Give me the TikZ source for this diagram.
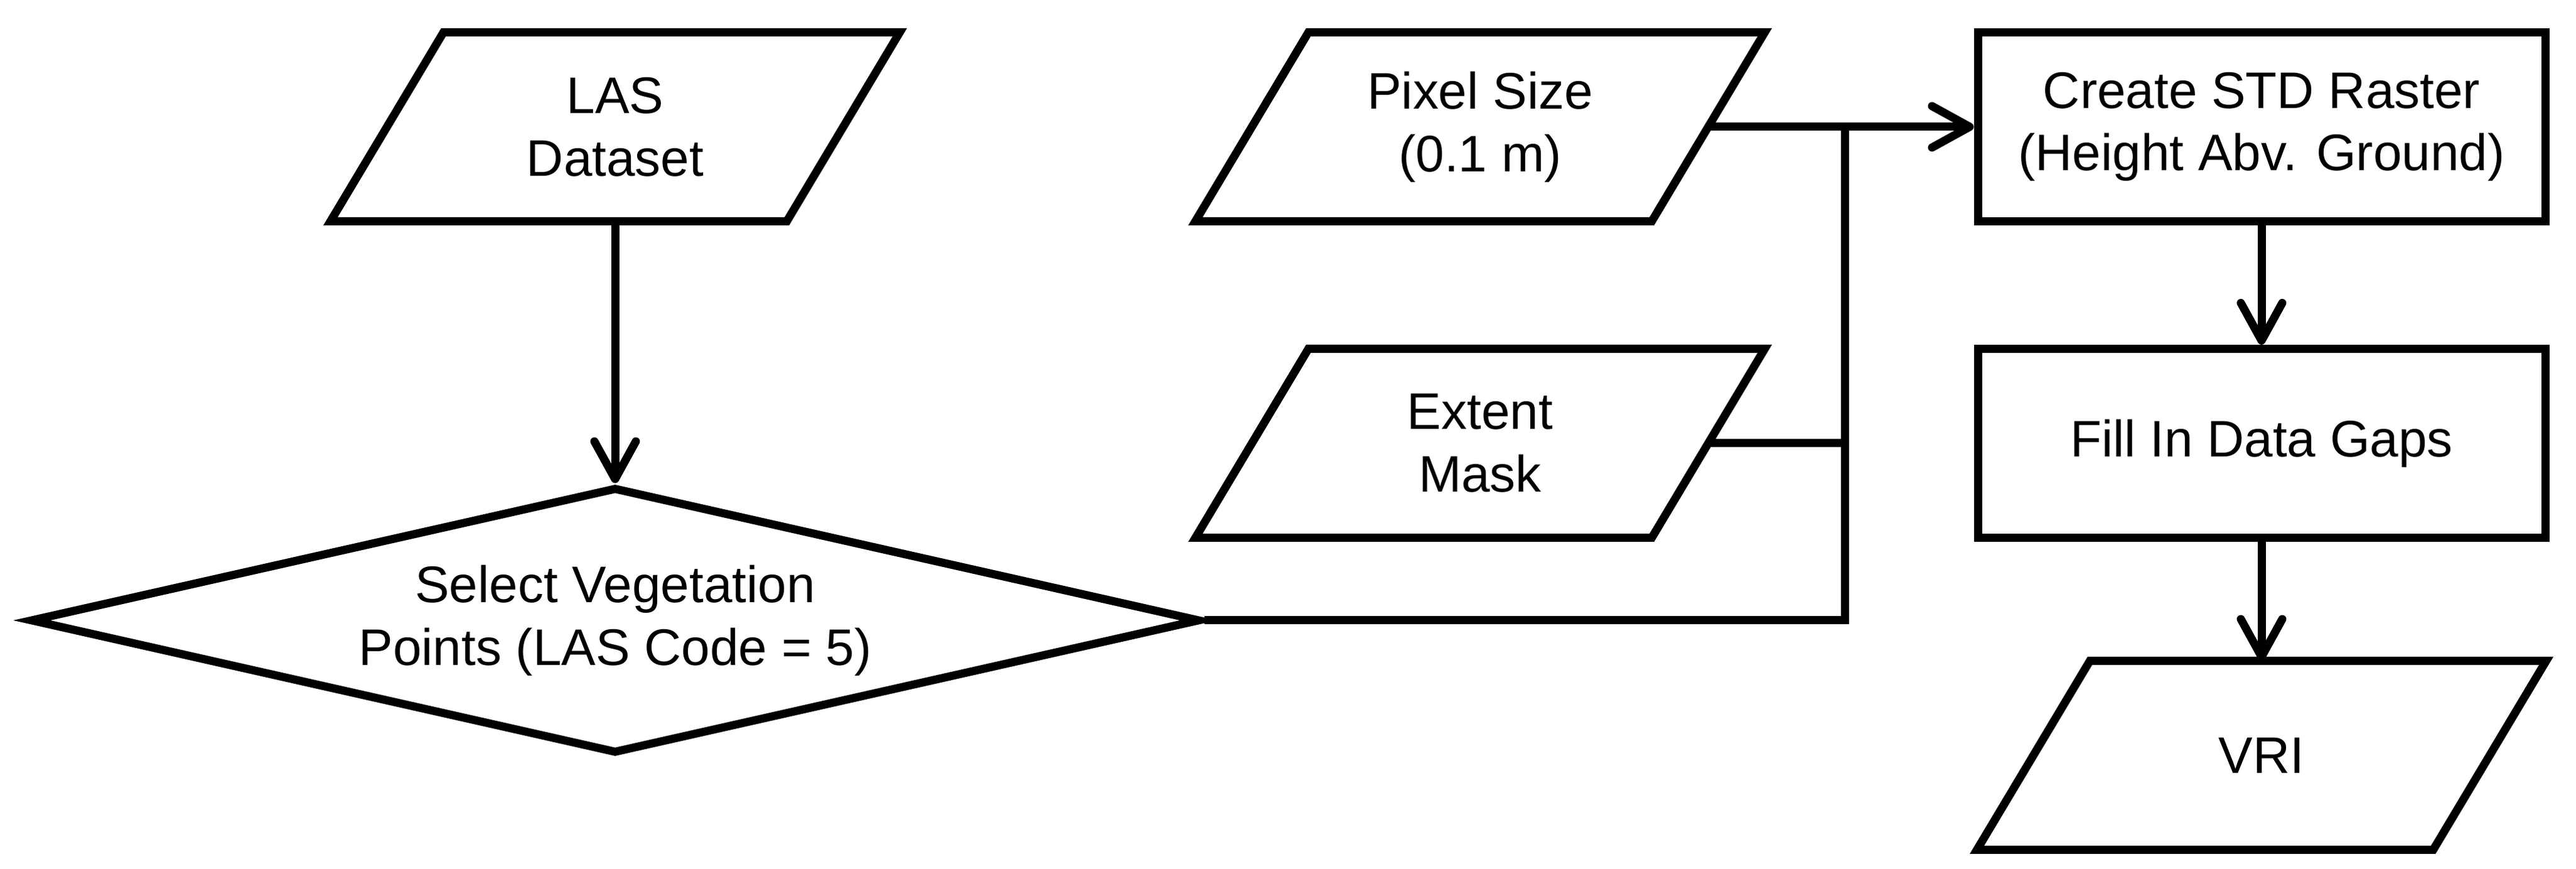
\documentclass[tikz,border=0pt]{standalone}
\usepackage{fontspec}
\setmainfont{Liberation Sans}
\usetikzlibrary{shapes.geometric,arrows.meta}

\begin{document}
\begin{tikzpicture}[
  every node/.style={font=\fontsize{23.3}{28.4}\selectfont, align=center, inner sep=0pt},
  io/.style={rectangle, outer sep=0pt, minimum width=7.27cm, minimum height=3.01cm},
  proc/.style={draw, line width=0.13cm, rectangle, minimum width=9.04cm, minimum height=3.01cm},
  dec/.style={draw, line width=0.13cm, diamond, aspect=4.4, minimum width=18.64cm, minimum height=4.24cm},
  arr/.style={line width=0.13cm, -{Straight Barb[length=0.6cm, width=0.66cm, round]}}
]
\useasboundingbox (0,0) rectangle (41.04,13.84);

\node[io] at (9.80,11.82) (las){LAS\\Dataset};
\node[dec] at (9.80,3.96) (veg){Select Vegetation\\Points (LAS Code = 5)};
\node[io] at (23.58,11.82) (pix){Pixel Size\\(0.1 m)};
\node[io] at (23.58,6.78) (ext){Extent\\Mask};
\node[proc] at (36.03,11.82) (std){Create STD Raster\\(Height Abv. Ground)};
\node[proc] at (36.03,6.78) (gap){Fill In Data Gaps};
\node[io] at (36.03,1.81) (vri){VRI};
\coordinate (jn) at (29.39,11.82);

% data boxes (slanted)
\foreach \n in {las,pix,ext,vri}
  \draw[line width=0.13cm] ([xshift=-0.9cm]\n.south west) -- ([xshift=-0.9cm]\n.south east)
    -- ([xshift=0.9cm]\n.north east) -- ([xshift=0.9cm]\n.north west) -- cycle;

\draw[arr] (las) -- (veg);
\draw[arr] (pix) -- (std); % inputs join here
\draw[line width=0.13cm] (ext.east) -- (ext.east -| jn);
\draw[line width=0.13cm] (veg.east) -| (jn);
\draw[arr] (std) -- (gap);
\draw[arr] (gap) -- (vri);

\end{tikzpicture}
\end{document}
